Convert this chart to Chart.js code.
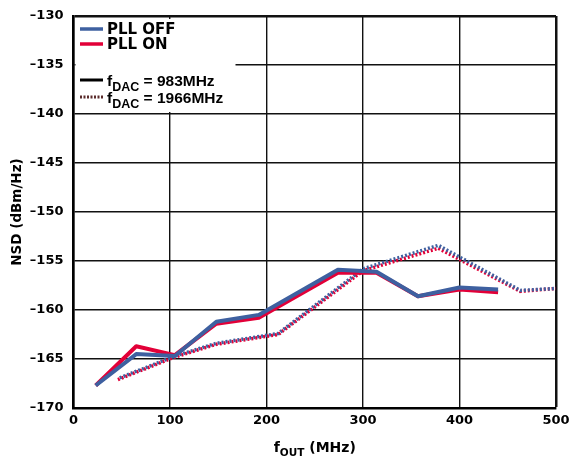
<!DOCTYPE html>
<html>
<head>
<meta charset="utf-8">
<script src="https://cdn.jsdelivr.net/npm/chart.js@4/dist/chart.umd.min.js"></script>
<style>
  html, body { margin: 0; padding: 0; background: #fff; }
  #wrap { width: 570px; height: 464px; }
</style>
</head>
<body>
<div id="wrap"><canvas id="myChart" width="570" height="464"></canvas></div>
<script>
// fOUT (MHz) for the 983MHz runs
const fout983 = [23, 65, 105, 148, 192, 274, 314, 357, 400, 440]
const pllOff983 = [-167.7, -164.5, -164.7, -161.2, -160.5, -155.9, -156.1, -158.6, -157.7, -157.9]
const pllOn983 = [-167.7, -163.7, -164.6, -161.4, -160.8, -156.2, -156.2, -158.6, -157.9, -158.2]

// fOUT (MHz) for the 1966MHz runs
const fout1966 = [46, 105, 148, 212, 300, 378, 463, 500]
const pllOff1966 = [-167.0, -164.7, -163.4, -162.4, -155.8, -153.4, -158.0, -157.8]
const pllOn1966 = [-167.1, -164.8, -163.5, -162.5, -156.0, -153.7, -158.1, -157.8]

const xTicks = [0, 100, 200, 300, 400, 500]
const yTicks = [-170, -165, -160, -155, -150, -145, -140, -135, -130]

const BLUE = 'rgb(62, 96, 160)'
const RED = 'rgb(226, 0, 56)'
const FONT = '"DejaVu Sans", "Liberation Sans", Arial, sans-serif'
const FONT2 = '"Liberation Sans", Arial, sans-serif'

const pts = (xs, ys) => xs.map((x, i) => ({ x: x, y: ys[i] }))

// legend + axis titles (need subscripts, so drawn by hand)
const extras = {
    id: 'extras',
    afterDraw(chart) {
        const ctx = chart.ctx
        const area = chart.chartArea
        ctx.save()
        ctx.fillStyle = '#000'
        ctx.textBaseline = 'alphabetic'

        // y title
        ctx.save()
        ctx.translate(21, (area.top + area.bottom) / 2)
        ctx.rotate(-Math.PI / 2)
        ctx.textAlign = 'center'
        ctx.font = 'bold 13.5px ' + FONT
        ctx.fillText('NSD (dBm/Hz)', 0, 0)
        ctx.restore()

        // x title with subscript
        ctx.font = 'bold 14px ' + FONT
        const wf = ctx.measureText('f').width
        ctx.font = 'bold 10.5px ' + FONT
        const wsub = ctx.measureText('OUT').width
        ctx.font = 'bold 14px ' + FONT
        const wrest = ctx.measureText(' (MHz)').width
        let x0 = (area.left + area.right) / 2 - (wf + wsub + wrest) / 2
        const yb = 452
        ctx.textAlign = 'left'
        ctx.fillText('f', x0, yb)
        ctx.font = 'bold 10.5px ' + FONT
        ctx.fillText('OUT', x0 + wf, yb + 4)
        ctx.font = 'bold 14px ' + FONT
        ctx.fillText(' (MHz)', x0 + wf + wsub, yb)

        // legend box
        ctx.fillStyle = '#fff'
        ctx.fillRect(area.left + 2, area.top + 3, 160, 93)
        ctx.fillStyle = '#000'
        const lx = 80, lw = 23, tx = 107
        const drawSample = (y, color, dash, width) => {
            ctx.save()
            ctx.strokeStyle = color
            ctx.lineWidth = width
            ctx.setLineDash(dash)
            ctx.beginPath()
            ctx.moveTo(lx, y)
            ctx.lineTo(lx + lw, y)
            ctx.stroke()
            ctx.restore()
        }
        drawSample(29, BLUE, [], 3.5)
        drawSample(44, RED, [], 3.5)
        drawSample(80, '#000', [], 3)
        drawSample(97, '#5a2b2b', [2, 1.5], 3)

        ctx.font = 'bold 15px ' + FONT
        ctx.textBaseline = 'middle'
        ctx.fillText('PLL OFF', tx, 30)
        ctx.fillText('PLL ON', tx, 45)

        ctx.textBaseline = 'alphabetic'
        const fdac = (y, txt) => {
            ctx.font = 'bold 15.5px ' + FONT2
            ctx.fillText('f', tx, y)
            const w1 = ctx.measureText('f').width
            ctx.font = 'bold 12.5px ' + FONT2
            ctx.fillText('DAC', tx + w1, y + 5)
            const w2 = ctx.measureText('DAC').width
            ctx.font = 'bold 15.5px ' + FONT2
            ctx.fillText(txt, tx + w1 + w2, y)
        }
        fdac(86, ' = 983MHz')
        fdac(103, ' = 1966MHz')
        ctx.restore()
    }
}

const tickFont = { family: FONT, size: 13, weight: 'bold' }

const config = {
    type: 'line',
    data: {
        datasets: [{
            label: 'PLL OFF 983',
            data: pts(fout983, pllOff983),
            borderColor: BLUE,
            borderWidth: 4,
        }, {
            label: 'PLL ON 983',
            data: pts(fout983, pllOn983),
            borderColor: RED,
            borderWidth: 4,
        }, {
            label: 'PLL OFF 1966',
            data: pts(fout1966, pllOff1966),
            borderColor: BLUE,
            borderWidth: 3.5,
            borderDash: [2, 2],
            borderDashOffset: 2,
        }, {
            label: 'PLL ON 1966',
            data: pts(fout1966, pllOn1966),
            borderColor: RED,
            borderWidth: 3.5,
            borderDash: [2, 2],
        }]
    },
    options: {
        responsive: false,
        animation: false,
        layout: { padding: { top: 16, right: 14, left: 0, bottom: 0 } },
        elements: {
            point: { radius: 0 },
            line: { tension: 0, borderCapStyle: 'butt', borderJoinStyle: 'round' }
        },
        plugins: {
            legend: { display: false },
            tooltip: { enabled: false },
            title: { display: false }
        },
        scales: {
            x: {
                type: 'linear',
                min: 0,
                max: 500,
                afterBuildTicks: s => { s.ticks = xTicks.map(v => ({ value: v })) },
                afterFit: s => { s.height = 56; s.paddingLeft = 0; s.paddingRight = 0 },
                ticks: { color: '#000', font: tickFont, padding: 5 },
                grid: {
                    color: '#111',
                    lineWidth: c => (c.index === xTicks.length - 1 ? 2.5 : 1.4),
                    drawTicks: false
                },
                border: { color: '#000', width: 2.5 }
            },
            y: {
                min: -170,
                max: -130,
                afterBuildTicks: s => { s.ticks = yTicks.map(v => ({ value: v })) },
                afterFit: s => { s.width = 73.5; s.paddingTop = 0; s.paddingBottom = 0 },
                ticks: {
                    color: '#000',
                    font: tickFont,
                    padding: 10,
                    callback: v => String(v).replace('-', '\u2013')
                },
                grid: {
                    color: '#111',
                    lineWidth: c => (c.index === yTicks.length - 1 ? 2.5 : 1.4),
                    drawTicks: false
                },
                border: { color: '#000', width: 2.5 }
            }
        }
    },
    plugins: [extras]
}

new Chart(document.getElementById('myChart'), config)
</script>
</body>
</html>
